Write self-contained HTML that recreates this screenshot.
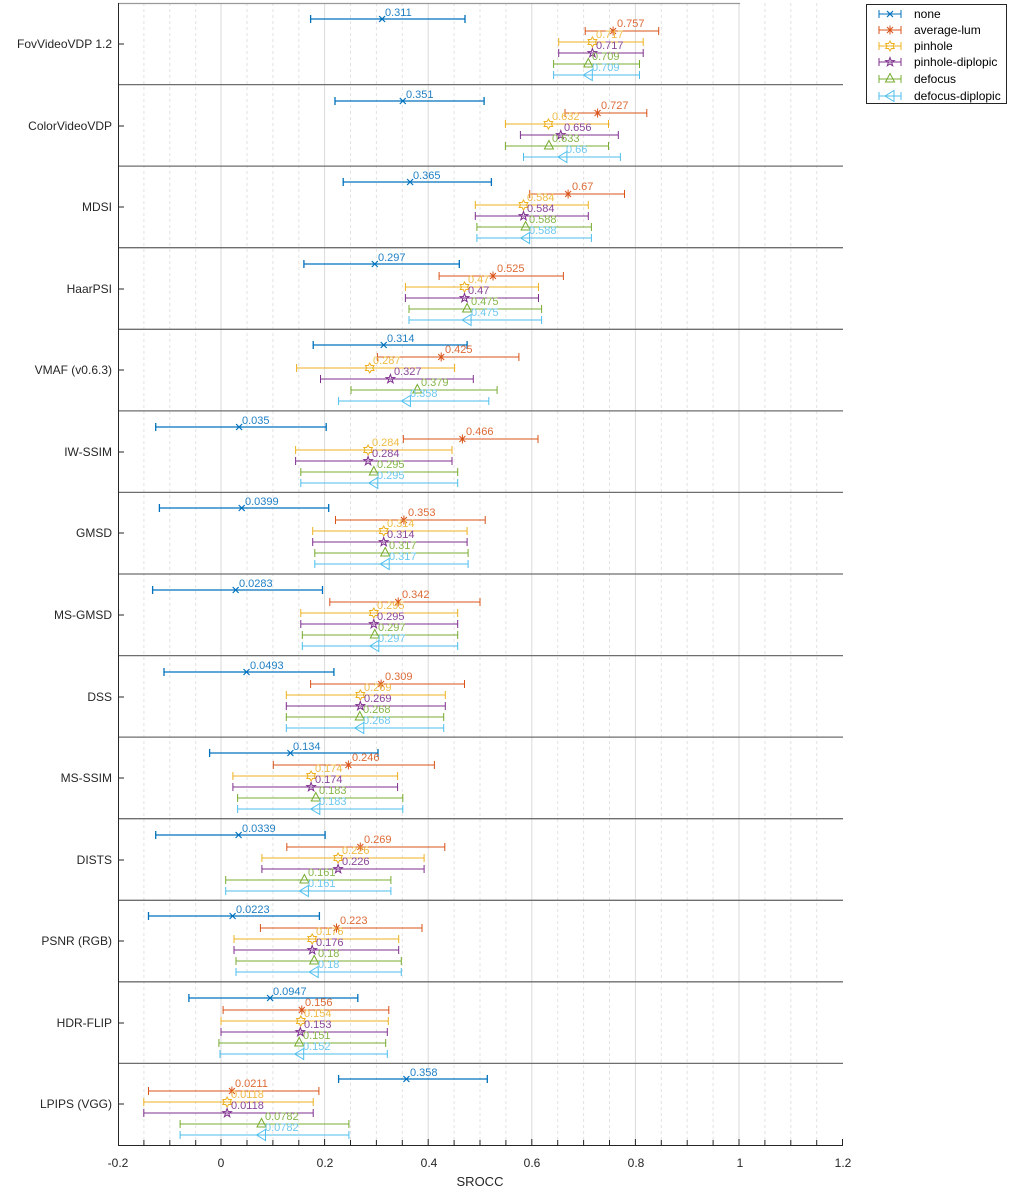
<!DOCTYPE html>
<html><head><meta charset="utf-8"><style>
html,body{margin:0;padding:0;background:#fff;}
svg{display:block;font-family:"Liberation Sans",sans-serif;}
</style></head><body>
<svg width="1011" height="1190" viewBox="0 0 1011 1190" xmlns="http://www.w3.org/2000/svg">
<defs>
<g id="mx"><path d="M-3,-3L3,3M-3,3L3,-3" stroke="#0072BD" stroke-width="1.2" fill="none"/></g>
<g id="ms"><path d="M-4,0H4M0,-4.5V4.5M-3,-3L3,3M-3,3L3,-3" stroke="#D95319" stroke-width="1" fill="none"/></g>
<g id="mh"><polygon points="0,-5 1.4,-2.5 4.3,-2.5 2.9,0 4.3,2.5 1.4,2.5 0,5 -1.4,2.5 -4.3,2.5 -2.9,0 -4.3,-2.5 -1.4,-2.5" stroke="#EDB120" stroke-width="1" fill="none"/></g>
<g id="mp"><polygon points="0,-4.5 1.1,-1.4 4.3,-1.4 1.7,0.6 2.7,3.7 0,1.8 -2.7,3.7 -1.7,0.6 -4.3,-1.4 -1.1,-1.4" stroke="#7E2F8E" stroke-width="1" fill="none"/></g>
<g id="mt"><polygon points="0,-5.5 -4.5,3 4.5,3" stroke="#77AC30" stroke-width="1" fill="none"/></g>
<g id="ml"><polygon points="-5,0 4,-5.5 4,5.5" stroke="#4DBEEE" stroke-width="1" fill="none"/></g>
</defs>

<!-- minor grid -->
<g stroke="#e2e2e2" stroke-width="1" stroke-dasharray="3,3" fill="none">
<path d="M143.9,3V1145M169.8,3V1145M195.7,3V1145M247.0,3V1145M272.9,3V1145M298.8,3V1145M350.5,3V1145M376.4,3V1145M402.3,3V1145M454.1,3V1145M480.0,3V1145M505.9,3V1145M557.7,3V1145M583.6,3V1145M609.5,3V1145M661.3,3V1145M687.2,3V1145M713.1,3V1145M764.9,3V1145M790.8,3V1145M816.7,3V1145"/>
</g>
<g stroke="#dadada" stroke-width="1" fill="none">
<path d="M221,3V1145M324.6,3V1145M428.2,3V1145M531.8,3V1145M635.4,3V1145M739,3V1145"/>
</g>

<!-- row separators -->
<g stroke="#6e6e6e" stroke-width="1.3" fill="none">
<path d="M118,3.5H740" stroke="#999"/>
<path d="M118,84.6H843M118,166.1H843M118,247.7H843M118,329.3H843M118,410.9H843M118,492.4H843M118,574H843M118,655.6H843M118,737.1H843M118,818.7H843M118,900.3H843M118,981.8H843M118,1063.4H843"/>
</g>

<!-- axes -->
<g stroke="#262626" stroke-width="1" fill="none">
<path d="M118.5,3V1145.5H843"/>
<path d="M118,44H124M118,126H124M118,207H124M118,289H124M118,370H124M118,452H124M118,533H124M118,615H124M118,697H124M118,778H124M118,860H124M118,941H124M118,1023H124M118,1104H124"/>
<path d="M143.9,1145V1140M169.8,1145V1140M195.7,1145V1140M221,1145V1139M247,1145V1140M272.9,1145V1140M298.8,1145V1140M324.6,1145V1139M350.5,1145V1140M376.4,1145V1140M402.3,1145V1140M428.2,1145V1139M454.1,1145V1140M480,1145V1140M505.9,1145V1140M531.8,1145V1139M557.7,1145V1140M583.6,1145V1140M609.5,1145V1140M635.4,1145V1139M661.3,1145V1140M687.2,1145V1140M713.1,1145V1140M739,1145V1139M764.9,1145V1140M790.8,1145V1140M816.7,1145V1140M842.5,1145V1139"/>
</g>
<g font-size="12" fill="#262626" text-anchor="middle">
<text x="118" y="1167">-0.2</text><text x="221" y="1167">0</text><text x="325" y="1167">0.2</text><text x="429" y="1167">0.4</text><text x="532" y="1167">0.6</text><text x="636" y="1167">0.8</text><text x="740" y="1167">1</text><text x="843" y="1167">1.2</text>
<text x="480" y="1186" font-size="13">SROCC</text>
</g>
<g font-size="12" fill="#262626" text-anchor="end">
<text x="112" y="48">FovVideoVDP 1.2</text>
<text x="112" y="130">ColorVideoVDP</text>
<text x="112" y="211">MDSI</text>
<text x="112" y="293">HaarPSI</text>
<text x="112" y="374">VMAF (v0.6.3)</text>
<text x="112" y="456">IW-SSIM</text>
<text x="112" y="537">GMSD</text>
<text x="112" y="619">MS-GMSD</text>
<text x="112" y="701">DSS</text>
<text x="112" y="782">MS-SSIM</text>
<text x="112" y="864">DISTS</text>
<text x="112" y="945">PSNR (RGB)</text>
<text x="112" y="1027">HDR-FLIP</text>
<text x="112" y="1108">LPIPS (VGG)</text>
</g>

<!-- none -->
<g stroke="#0072BD" stroke-width="1.3" fill="none">
<path d="M310.6,19H465M310.6,15V23M465,15V23"/>
<path d="M335,101H484.1M335,97V105M484.1,97V105"/>
<path d="M343.2,182H491.4M343.2,178V186M491.4,178V186"/>
<path d="M303.9,264H459.3M303.9,260V268M459.3,260V268"/>
<path d="M313.2,345H467.1M313.2,341V349M467.1,341V349"/>
<path d="M155.7,427H326.2M155.7,423V431M326.2,423V431"/>
<path d="M159.4,508H328.7M159.4,504V512M328.7,504V512"/>
<path d="M152.6,590H322.5M152.6,586V594M322.5,586V594"/>
<path d="M164,672H333.9M164,668V676M333.9,668V676"/>
<path d="M209.6,753H378M209.6,749V757M378,749V757"/>
<path d="M155.7,835H325.1M155.7,831V839M325.1,831V839"/>
<path d="M148.5,916H319.4M148.5,912V920M319.4,912V920"/>
<path d="M188.9,998H357.8M188.9,994V1002M357.8,994V1002"/>
<path d="M338.6,1079H487.3M338.6,1075V1083M487.3,1075V1083"/>
</g>
<use href="#mx" x="382.1" y="19"/><use href="#mx" x="402.8" y="101"/><use href="#mx" x="410.1" y="182"/><use href="#mx" x="374.8" y="264"/><use href="#mx" x="383.7" y="345"/><use href="#mx" x="239.1" y="427"/><use href="#mx" x="241.7" y="508"/><use href="#mx" x="235.7" y="590"/><use href="#mx" x="246.5" y="672"/><use href="#mx" x="290.4" y="753"/><use href="#mx" x="238.6" y="835"/><use href="#mx" x="232.6" y="916"/><use href="#mx" x="270.1" y="998"/><use href="#mx" x="406.4" y="1079"/>
<g font-size="11" fill="#1f7fc4">
<text x="385" y="16">0.311</text><text x="406" y="98">0.351</text><text x="413" y="179">0.365</text><text x="378" y="261">0.297</text><text x="387" y="342">0.314</text><text x="242" y="424">0.035</text><text x="245" y="505">0.0399</text><text x="239" y="587">0.0283</text><text x="250" y="669">0.0493</text><text x="293" y="750">0.134</text><text x="242" y="832">0.0339</text><text x="236" y="913">0.0223</text><text x="273" y="995">0.0947</text><text x="410" y="1076">0.358</text>
</g>

<!-- average-lum -->
<g stroke="#D95319" stroke-width="1" fill="none">
<path d="M585.2,31H658.7M585.2,27V35M658.7,27V35"/>
<path d="M565,113H646.8M565,109V117M646.8,109V117"/>
<path d="M529.7,194H624.5M529.7,190V198M624.5,190V198"/>
<path d="M439.1,276H563.4M439.1,272V280M563.4,272V280"/>
<path d="M377.4,357H518.9M377.4,353V361M518.9,353V361"/>
<path d="M403.3,439H538M403.3,435V443M538,435V443"/>
<path d="M335.5,520H485.2M335.5,516V524M485.2,516V524"/>
<path d="M329.8,602H480M329.8,598V606M480,598V606"/>
<path d="M310.6,684H464.5M310.6,680V688M464.5,680V688"/>
<path d="M273.3,765H434.4M273.3,761V769M434.4,761V769"/>
<path d="M286.8,847H444.8M286.8,843V851M444.8,843V851"/>
<path d="M260.4,928H422M260.4,924V932M422,924V932"/>
<path d="M223.1,1010H388.8M223.1,1006V1014M388.8,1006V1014"/>
<path d="M148.5,1091H318.9M148.5,1087V1095M318.9,1087V1095"/>
</g>
<use href="#ms" x="613.1" y="31"/><use href="#ms" x="597.6" y="113"/><use href="#ms" x="568.1" y="194"/><use href="#ms" x="493" y="276"/><use href="#ms" x="441.2" y="357"/><use href="#ms" x="462.4" y="439"/><use href="#ms" x="403.9" y="520"/><use href="#ms" x="398.2" y="602"/><use href="#ms" x="381.1" y="684"/><use href="#ms" x="348.4" y="765"/><use href="#ms" x="360.3" y="847"/><use href="#ms" x="336.5" y="928"/><use href="#ms" x="301.8" y="1010"/><use href="#ms" x="231.9" y="1091"/>
<g font-size="11" fill="#dd6a36">
<text x="617" y="27">0.757</text><text x="601" y="109">0.727</text><text x="572" y="190">0.67</text><text x="497" y="272">0.525</text><text x="445" y="353">0.425</text><text x="466" y="435">0.466</text><text x="408" y="516">0.353</text><text x="402" y="598">0.342</text><text x="385" y="680">0.309</text><text x="352" y="761">0.246</text><text x="364" y="843">0.269</text><text x="340" y="924">0.223</text><text x="305" y="1006">0.156</text><text x="235" y="1087">0.0211</text>
</g>

<!-- pinhole -->
<g stroke="#EDB120" stroke-width="1" fill="none">
<path d="M558.7,42H643.2M558.7,38V46M643.2,38V46"/>
<path d="M505.4,124H608.5M505.4,120V128M608.5,120V128"/>
<path d="M475.3,205H588.3M475.3,201V209M588.3,201V209"/>
<path d="M405.4,287H538.5M405.4,283V291M538.5,283V291"/>
<path d="M296.6,368H454.6M296.6,364V372M454.6,364V372"/>
<path d="M295.6,450H452M295.6,446V454M452,446V454"/>
<path d="M312.7,531H467.1M312.7,527V535M467.1,527V535"/>
<path d="M300.8,613H457.7M300.8,609V617M457.7,609V617"/>
<path d="M286.3,695H445.3M286.3,691V699M445.3,691V699"/>
<path d="M232.9,776H397.6M232.9,772V780M397.6,772V780"/>
<path d="M261.9,858H424.1M261.9,854V862M424.1,854V862"/>
<path d="M234,939H398.7M234,935V943M398.7,935V943"/>
<path d="M221,1021H388.3M221,1017V1025M388.3,1017V1025"/>
<path d="M143.8,1102H313.2M143.8,1098V1106M313.2,1098V1106"/>
</g>
<use href="#mh" x="592.4" y="42"/><use href="#mh" x="548.4" y="124"/><use href="#mh" x="523.5" y="205"/><use href="#mh" x="464.5" y="287"/><use href="#mh" x="369.7" y="368"/><use href="#mh" x="368.1" y="450"/><use href="#mh" x="383.7" y="531"/><use href="#mh" x="373.8" y="613"/><use href="#mh" x="360.3" y="695"/><use href="#mh" x="311.1" y="776"/><use href="#mh" x="338.1" y="858"/><use href="#mh" x="312.2" y="939"/><use href="#mh" x="300.8" y="1021"/><use href="#mh" x="227.1" y="1102"/>
<g font-size="11" fill="#efbc45">
<text x="596" y="38">0.717</text><text x="552" y="120">0.632</text><text x="527" y="201">0.584</text><text x="468" y="283">0.47</text><text x="373" y="364">0.287</text><text x="372" y="446">0.284</text><text x="387" y="527">0.314</text><text x="377" y="609">0.295</text><text x="364" y="691">0.269</text><text x="315" y="772">0.174</text><text x="342" y="854">0.226</text><text x="316" y="935">0.176</text><text x="304" y="1017">0.154</text><text x="231" y="1098">0.0118</text>
</g>

<!-- pinhole-diplopic -->
<g stroke="#7E2F8E" stroke-width="1" fill="none">
<path d="M558.7,53H643.2M558.7,49V57M643.2,49V57"/>
<path d="M520.4,135H618.3M520.4,131V139M618.3,131V139"/>
<path d="M475.3,216H588.3M475.3,212V220M588.3,212V220"/>
<path d="M405.4,298H538.5M405.4,294V302M538.5,294V302"/>
<path d="M320.5,379H473.3M320.5,375V383M473.3,375V383"/>
<path d="M295.6,461H452M295.6,457V465M452,457V465"/>
<path d="M312.7,542H467.1M312.7,538V546M467.1,538V546"/>
<path d="M300.8,624H457.7M300.8,620V628M457.7,620V628"/>
<path d="M286.3,706H445.3M286.3,702V710M445.3,702V710"/>
<path d="M232.9,787H397.6M232.9,783V791M397.6,783V791"/>
<path d="M261.9,869H424.1M261.9,865V873M424.1,865V873"/>
<path d="M234,950H398.7M234,946V954M398.7,946V954"/>
<path d="M221,1032H387.3M221,1028V1036M387.3,1028V1036"/>
<path d="M143.8,1113H313.2M143.8,1109V1117M313.2,1109V1117"/>
</g>
<use href="#mp" x="592.4" y="53"/><use href="#mp" x="560.8" y="135"/><use href="#mp" x="523.5" y="216"/><use href="#mp" x="464.5" y="298"/><use href="#mp" x="390.4" y="379"/><use href="#mp" x="368.1" y="461"/><use href="#mp" x="383.7" y="542"/><use href="#mp" x="373.8" y="624"/><use href="#mp" x="360.3" y="706"/><use href="#mp" x="311.1" y="787"/><use href="#mp" x="338.1" y="869"/><use href="#mp" x="312.2" y="950"/><use href="#mp" x="300.3" y="1032"/><use href="#mp" x="227.1" y="1113"/>
<g font-size="11" fill="#8a4699">
<text x="596" y="49">0.717</text><text x="564" y="131">0.656</text><text x="527" y="212">0.584</text><text x="468" y="294">0.47</text><text x="394" y="375">0.327</text><text x="372" y="457">0.284</text><text x="387" y="538">0.314</text><text x="377" y="620">0.295</text><text x="364" y="702">0.269</text><text x="315" y="783">0.174</text><text x="342" y="865">0.226</text><text x="316" y="946">0.176</text><text x="304" y="1028">0.153</text><text x="231" y="1109">0.0118</text>
</g>

<!-- defocus -->
<g stroke="#77AC30" stroke-width="1" fill="none">
<path d="M553.6,64H639.5M553.6,60V68M639.5,60V68"/>
<path d="M505.4,146H608.5M505.4,142V150M608.5,142V150"/>
<path d="M476.9,227H591.4M476.9,223V231M591.4,223V231"/>
<path d="M409,309H541.6M409,305V313M541.6,305V313"/>
<path d="M351,390H497.1M351,386V394M497.1,386V394"/>
<path d="M300.8,472H457.7M300.8,468V476M457.7,468V476"/>
<path d="M314.8,553H468.1M314.8,549V557M468.1,549V557"/>
<path d="M302.3,635H457.7M302.3,631V639M457.7,631V639"/>
<path d="M286.3,717H443.7M286.3,713V721M443.7,713V721"/>
<path d="M237.6,798H402.8M237.6,794V802M402.8,794V802"/>
<path d="M225.7,880H390.9M225.7,876V884M390.9,876V884"/>
<path d="M236,961H401.3M236,957V965M401.3,957V965"/>
<path d="M218.9,1043H385.7M218.9,1039V1047M385.7,1039V1047"/>
<path d="M180.1,1124H348.9M180.1,1120V1128M348.9,1120V1128"/>
</g>
<use href="#mt" x="588.3" y="64"/><use href="#mt" x="548.9" y="146"/><use href="#mt" x="525.6" y="227"/><use href="#mt" x="467.1" y="309"/><use href="#mt" x="417.3" y="390"/><use href="#mt" x="373.8" y="472"/><use href="#mt" x="385.2" y="553"/><use href="#mt" x="374.8" y="635"/><use href="#mt" x="359.8" y="717"/><use href="#mt" x="315.8" y="798"/><use href="#mt" x="304.4" y="880"/><use href="#mt" x="314.2" y="961"/><use href="#mt" x="299.2" y="1043"/><use href="#mt" x="261.5" y="1124"/>
<g font-size="11" fill="#86b54a">
<text x="592" y="60">0.709</text><text x="552" y="142">0.633</text><text x="529" y="223">0.588</text><text x="471" y="305">0.475</text><text x="421" y="386">0.379</text><text x="377" y="468">0.295</text><text x="389" y="549">0.317</text><text x="378" y="631">0.297</text><text x="363" y="713">0.268</text><text x="319" y="794">0.183</text><text x="308" y="876">0.161</text><text x="318" y="957">0.18</text><text x="303" y="1039">0.151</text><text x="265" y="1120">0.0782</text>
</g>

<!-- defocus-diplopic -->
<g stroke="#4DBEEE" stroke-width="1" fill="none">
<path d="M553.6,75H639.5M553.6,71V79M639.5,71V79"/>
<path d="M523.5,157H620.4M523.5,153V161M620.4,153V161"/>
<path d="M476.9,238H591.4M476.9,234V242M591.4,234V242"/>
<path d="M409,320H541.6M409,316V324M541.6,316V324"/>
<path d="M338.6,401H488.8M338.6,397V405M488.8,397V405"/>
<path d="M300.8,483H457.7M300.8,479V487M457.7,479V487"/>
<path d="M314.8,564H468.1M314.8,560V568M468.1,560V568"/>
<path d="M302.3,646H457.7M302.3,642V650M457.7,642V650"/>
<path d="M286.3,728H443.7M286.3,724V732M443.7,724V732"/>
<path d="M237.6,809H402.8M237.6,805V813M402.8,805V813"/>
<path d="M225.7,891H390.9M225.7,887V895M390.9,887V895"/>
<path d="M236,972H401.3M236,968V976M401.3,968V976"/>
<path d="M220,1054H387.3M220,1050V1058M387.3,1050V1058"/>
<path d="M180.1,1135H348.9M180.1,1131V1139M348.9,1131V1139"/>
</g>
<use href="#ml" x="588.3" y="75"/><use href="#ml" x="562.9" y="157"/><use href="#ml" x="525.6" y="238"/><use href="#ml" x="467.1" y="320"/><use href="#ml" x="406.4" y="401"/><use href="#ml" x="373.8" y="483"/><use href="#ml" x="385.2" y="564"/><use href="#ml" x="374.8" y="646"/><use href="#ml" x="359.8" y="728"/><use href="#ml" x="315.8" y="809"/><use href="#ml" x="304.4" y="891"/><use href="#ml" x="314.2" y="972"/><use href="#ml" x="299.7" y="1054"/><use href="#ml" x="261.5" y="1135"/>
<g font-size="11" fill="#6cc8f0">
<text x="592" y="71">0.709</text><text x="566" y="153">0.66</text><text x="529" y="234">0.588</text><text x="471" y="316">0.475</text><text x="410" y="397">0.358</text><text x="377" y="479">0.295</text><text x="389" y="560">0.317</text><text x="378" y="642">0.297</text><text x="363" y="724">0.268</text><text x="319" y="805">0.183</text><text x="308" y="887">0.161</text><text x="318" y="968">0.18</text><text x="303" y="1050">0.152</text><text x="265" y="1131">0.0782</text>
</g>

<!-- legend -->
<rect x="866.5" y="4.5" width="140" height="99" fill="#fff" stroke="#262626" stroke-width="1"/>
<g fill="none" stroke-width="1">
<path d="M879,14H901M879,10V18M901,10V18" stroke="#0072BD"/>
<path d="M879,30H901M879,26V34M901,26V34" stroke="#D95319"/>
<path d="M879,46H901M879,42V50M901,42V50" stroke="#EDB120"/>
<path d="M879,62H901M879,58V66M901,58V66" stroke="#7E2F8E"/>
<path d="M879,79H901M879,75V83M901,75V83" stroke="#77AC30"/>
<path d="M879,96H901M879,92V100M901,92V100" stroke="#4DBEEE"/>
</g>
<use href="#mx" x="890" y="14"/><use href="#ms" x="890" y="30"/><use href="#mh" x="890" y="46"/><use href="#mp" x="890" y="62"/><use href="#mt" x="890" y="79"/><use href="#ml" x="890" y="96"/>
<g font-size="12" fill="#000">
<text x="914" y="18">none</text>
<text x="914" y="34">average-lum</text>
<text x="914" y="50">pinhole</text>
<text x="914" y="66">pinhole-diplopic</text>
<text x="914" y="83">defocus</text>
<text x="914" y="100">defocus-diplopic</text>
</g>
</svg>
</body></html>
